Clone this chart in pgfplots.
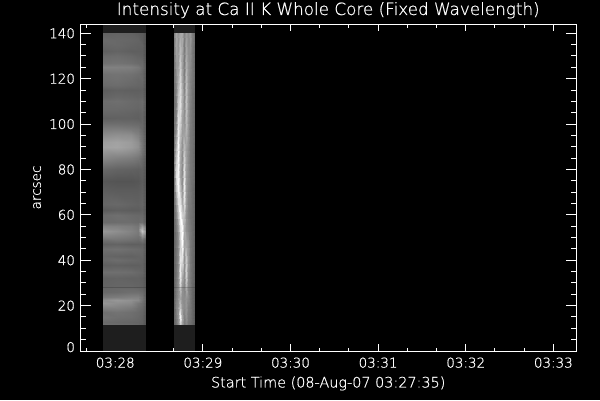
\documentclass[border=0pt]{standalone}
\usepackage{fontspec}
\setmainfont{DejaVu Sans ExtraLight}[RawFeature={embolden=0.7}]
\usepackage{pgfplots}
\pgfplotsset{compat=1.18}
\definecolor{band}{HTML}{1E1E1E}

\pgfplotsset{
  frame/.style={
    scale only axis,
    width=495.5pt, height=327pt,
    xmin=1.2, xmax=340.5,
    ymin=0, ymax=144.1,
    axis line style={white, line width=1pt},
    tick style={white, line width=1pt},
    tick align=inside,
    tick label style={white, font=\fontsize{13.5}{14}\selectfont},
    label style={white},
  }
}

\begin{document}
\begin{tikzpicture}[x=1pt,y=1pt]
\fill[black] (-80.5pt,-49pt) rectangle (519.5pt,351pt);
\path[use as bounding box] (-80.5pt,-49pt) rectangle (519.5pt,351pt);
\begin{axis}[frame,
    at={(0pt,0pt)}, anchor=south west,
    major tick length=7pt, minor tick length=3.5pt,
    xtick={25,85,145,205,265,325},
    xticklabels={03:28,03:29,03:30,03:31,03:32,03:33},
    minor xtick={5,45,65,105,125,165,185,225,245,285,305},
    ytick=\empty,
    xticklabel style={yshift=-3pt},
    title={Intensity at Ca II K Whole Core (Fixed Wavelength)},
    title style={white, font=\fontsize{16.8}{17}\selectfont, at={(0.5,1)}, anchor=south, yshift=-4pt},
    xlabel={Start Time (08-Aug-07 03:27:35)},
    xlabel style={font=\fontsize{14.4}{15}\selectfont, at={(axis description cs:0.5,0)}, anchor=north, yshift=-22pt},
    colormap/blackwhite,
    point meta min=0, point meta max=230,
]
% dark frames under and over the slit data
\addplot[fill=band, draw=none] coordinates {(16.6,0) (46,0) (46,11.5) (16.6,11.5)} --cycle;
\addplot[fill=band, draw=none] coordinates {(16.6,140) (46,140) (46,144.1) (16.6,144.1)} --cycle;
\addplot[fill=band, draw=none] coordinates {(65,0) (79.6,0) (79.6,11.5) (65,11.5)} --cycle;
\addplot[fill=band, draw=none] coordinates {(65,140) (79.6,140) (79.6,144.1) (65,144.1)} --cycle;

% first raster
\addplot[surf, shader=interp, mesh/cols=6, point meta=explicit] coordinates {
(16.6,11.5)[100] (26,11.5)[98] (36,11.5)[95] (40.5,11.5)[92] (43.5,11.5)[86] (46,11.5)[72]
(16.6,13)[96] (26,13)[94] (36,13)[92] (40.5,13)[90] (43.5,13)[88] (46,13)[74]
(16.6,15)[104] (26,15)[100] (36,15)[98] (40.5,15)[94] (43.5,15)[90] (46,15)[76]
(16.6,17)[100] (26,17)[104] (36,17)[100] (40.5,17)[96] (43.5,17)[92] (46,17)[78]
(16.6,19)[115] (26,19)[116] (36,19)[110] (40.5,19)[100] (43.5,19)[96] (46,19)[80]
(16.6,21)[134] (26,21)[128] (36,21)[124] (40.5,21)[108] (43.5,21)[100] (46,21)[82]
(16.6,22.5)[128] (26,22.5)[136] (36,22.5)[130] (40.5,22.5)[124] (43.5,22.5)[106] (46,22.5)[84]
(16.6,24)[108] (26,24)[112] (36,24)[116] (40.5,24)[116] (43.5,24)[106] (46,24)[84]
(16.6,26)[94] (26,26)[96] (36,26)[100] (40.5,26)[100] (43.5,26)[96] (46,26)[82]
(16.6,27.9)[92] (26,27.9)[94] (36,27.9)[94] (40.5,27.9)[92] (43.5,27.9)[90] (46,27.9)[78]
(16.6,28.3)[74] (26,28.3)[76] (36,28.3)[76] (40.5,28.3)[74] (43.5,28.3)[74] (46,28.3)[66]
(16.6,28.7)[90] (26,28.7)[92] (36,28.7)[92] (40.5,28.7)[90] (43.5,28.7)[88] (46,28.7)[76]
(16.6,32)[88] (26,32)[90] (36,32)[88] (40.5,32)[88] (43.5,32)[86] (46,32)[74]
(16.6,35)[100] (26,35)[100] (36,35)[98] (40.5,35)[94] (43.5,35)[92] (46,35)[76]
(16.6,38)[86] (26,38)[88] (36,38)[86] (40.5,38)[86] (43.5,38)[88] (46,38)[74]
(16.6,40)[94] (26,40)[98] (36,40)[94] (40.5,40)[92] (43.5,40)[90] (46,40)[76]
(16.6,42)[92] (26,42)[90] (36,42)[88] (40.5,42)[90] (43.5,42)[92] (46,42)[76]
(16.6,45)[100] (26,45)[102] (36,45)[98] (40.5,45)[96] (43.5,45)[94] (46,45)[78]
(16.6,47)[88] (26,47)[90] (36,47)[86] (40.5,47)[86] (43.5,47)[88] (46,47)[74]
(16.6,49)[100] (26,49)[104] (36,49)[100] (40.5,49)[96] (43.5,49)[104] (46,49)[80]
(16.6,51)[122] (26,51)[118] (36,51)[112] (40.5,51)[106] (43.5,51)[140] (46,51)[106]
(16.6,53)[136] (26,53)[128] (36,53)[118] (40.5,53)[110] (43.5,53)[178] (46,53)[124]
(16.6,55)[118] (26,55)[116] (36,55)[112] (40.5,55)[106] (43.5,55)[140] (46,55)[100]
(16.6,57)[96] (26,57)[98] (36,57)[98] (40.5,57)[96] (43.5,57)[100] (46,57)[82]
(16.6,60)[96] (26,60)[100] (36,60)[96] (40.5,60)[94] (43.5,60)[94] (46,60)[78]
(16.6,62)[82] (26,62)[86] (36,62)[84] (40.5,62)[84] (43.5,62)[88] (46,62)[74]
(16.6,65)[92] (26,65)[94] (36,65)[90] (40.5,65)[88] (43.5,65)[92] (46,65)[76]
(16.6,70)[86] (26,70)[84] (36,70)[84] (40.5,70)[84] (43.5,70)[88] (46,70)[74]
(16.6,75)[78] (26,75)[76] (36,75)[76] (40.5,75)[78] (43.5,75)[84] (46,75)[72]
(16.6,80)[94] (26,80)[90] (36,80)[88] (40.5,80)[86] (43.5,80)[88] (46,80)[74]
(16.6,85)[122] (26,85)[116] (36,85)[112] (40.5,85)[106] (43.5,85)[96] (46,85)[78]
(16.6,90)[146] (26,90)[148] (36,90)[140] (40.5,90)[130] (43.5,90)[108] (46,90)[82]
(16.6,92)[142] (26,92)[146] (36,92)[140] (40.5,92)[128] (43.5,92)[106] (46,92)[82]
(16.6,95)[126] (26,95)[130] (36,95)[128] (40.5,95)[116] (43.5,95)[102] (46,95)[80]
(16.6,98)[112] (26,98)[114] (36,98)[110] (40.5,98)[106] (43.5,98)[96] (46,98)[78]
(16.6,100)[100] (26,100)[100] (36,100)[98] (40.5,100)[96] (43.5,100)[94] (46,100)[76]
(16.6,102.5)[86] (26,102.5)[88] (36,102.5)[88] (40.5,102.5)[86] (43.5,102.5)[92] (46,102.5)[74]
(16.6,105)[92] (26,105)[92] (36,105)[90] (40.5,105)[88] (43.5,105)[92] (46,105)[76]
(16.6,107)[96] (26,107)[96] (36,107)[94] (40.5,107)[92] (43.5,107)[96] (46,107)[76]
(16.6,110)[98] (26,110)[100] (36,110)[96] (40.5,110)[94] (43.5,110)[98] (46,110)[78]
(16.6,112)[90] (26,112)[94] (36,112)[92] (40.5,112)[90] (43.5,112)[92] (46,112)[76]
(16.6,115)[84] (26,115)[88] (36,115)[86] (40.5,115)[86] (43.5,115)[88] (46,115)[72]
(16.6,117)[96] (26,117)[98] (36,117)[94] (40.5,117)[92] (43.5,117)[92] (46,117)[74]
(16.6,120)[100] (26,120)[102] (36,120)[98] (40.5,120)[94] (43.5,120)[96] (46,120)[76]
(16.6,122)[102] (26,122)[104] (36,122)[102] (40.5,122)[98] (43.5,122)[94] (46,122)[76]
(16.6,125)[116] (26,125)[116] (36,125)[114] (40.5,125)[108] (43.5,125)[98] (46,125)[78]
(16.6,127)[102] (26,127)[104] (36,127)[100] (40.5,127)[96] (43.5,127)[96] (46,127)[76]
(16.6,130)[96] (26,130)[98] (36,130)[94] (40.5,130)[90] (43.5,130)[88] (46,130)[72]
(16.6,132)[86] (26,132)[90] (36,132)[86] (40.5,132)[86] (43.5,132)[86] (46,132)[72]
(16.6,135)[92] (26,135)[94] (36,135)[90] (40.5,135)[88] (43.5,135)[88] (46,135)[72]
(16.6,137)[96] (26,137)[94] (36,137)[92] (40.5,137)[90] (43.5,137)[84] (46,137)[72]
(16.6,140)[88] (26,140)[90] (36,140)[88] (40.5,140)[84] (43.5,140)[82] (46,140)[70]
};

% second raster
\addplot[surf, shader=interp, mesh/cols=11, point meta=explicit] coordinates {
(65,11.5)[92] (66.6,11.5)[105] (67.9,11.5)[130] (69.3,11.5)[180] (70.7,11.5)[140] (72.1,11.5)[110] (73.4,11.5)[120] (74.8,11.5)[105] (76.2,11.5)[100] (77.5,11.5)[92] (79.6,11.5)[78]
(65,15)[92] (66.6,15)[110] (67.9,15)[135] (69.3,15)[225] (70.7,15)[150] (72.1,15)[115] (73.4,15)[130] (74.8,15)[110] (76.2,15)[105] (77.5,15)[95] (79.6,15)[78]
(65,20)[90] (66.6,20)[118] (67.9,20)[130] (69.3,20)[175] (70.7,20)[135] (72.1,20)[125] (73.4,20)[135] (74.8,20)[115] (76.2,20)[108] (77.5,20)[95] (79.6,20)[80]
(65,24)[90] (66.6,24)[112] (67.9,24)[130] (69.3,24)[150] (70.7,24)[128] (72.1,24)[125] (73.4,24)[135] (74.8,24)[125] (76.2,24)[108] (77.5,24)[95] (79.6,24)[80]
(65,27.9)[90] (66.6,27.9)[110] (67.9,27.9)[128] (69.3,27.9)[175] (70.7,27.9)[130] (72.1,27.9)[118] (73.4,27.9)[155] (74.8,27.9)[118] (76.2,27.9)[108] (77.5,27.9)[95] (79.6,27.9)[82]
(65,28.3)[76] (66.6,28.3)[92] (67.9,28.3)[108] (69.3,28.3)[145] (70.7,28.3)[108] (72.1,28.3)[100] (73.4,28.3)[130] (74.8,28.3)[100] (76.2,28.3)[92] (77.5,28.3)[80] (79.6,28.3)[70]
(65,28.7)[90] (66.6,28.7)[110] (67.9,28.7)[130] (69.3,28.7)[190] (70.7,28.7)[135] (72.1,28.7)[120] (73.4,28.7)[165] (74.8,28.7)[120] (76.2,28.7)[110] (77.5,28.7)[95] (79.6,28.7)[82]
(65,33)[90] (66.6,33)[105] (67.9,33)[130] (69.3,33)[215] (70.7,33)[155] (72.1,33)[125] (73.4,33)[190] (74.8,33)[125] (76.2,33)[110] (77.5,33)[98] (79.6,33)[84]
(65,40)[90] (66.6,40)[105] (67.9,40)[125] (69.3,40)[210] (70.7,40)[200] (72.1,40)[130] (73.4,40)[185] (74.8,40)[135] (76.2,40)[110] (77.5,40)[98] (79.6,40)[86]
(65,47)[90] (66.6,47)[105] (67.9,47)[125] (69.3,47)[185] (70.7,47)[235] (72.1,47)[145] (73.4,47)[150] (74.8,47)[135] (76.2,47)[110] (77.5,47)[100] (79.6,47)[86]
(65,54)[92] (66.6,54)[110] (67.9,54)[140] (69.3,54)[205] (70.7,54)[240] (72.1,54)[155] (73.4,54)[130] (74.8,54)[120] (76.2,54)[110] (77.5,54)[100] (79.6,54)[86]
(65,60)[95] (66.6,60)[120] (67.9,60)[170] (69.3,60)[230] (70.7,60)[190] (72.1,60)[175] (73.4,60)[130] (74.8,60)[115] (76.2,60)[105] (77.5,60)[100] (79.6,60)[88]
(65,66)[100] (66.6,66)[140] (67.9,66)[200] (69.3,66)[205] (70.7,66)[150] (72.1,66)[205] (73.4,66)[140] (74.8,66)[115] (76.2,66)[110] (77.5,66)[100] (79.6,66)[88]
(65,72)[105] (66.6,72)[175] (67.9,72)[225] (69.3,72)[175] (70.7,72)[130] (72.1,72)[215] (73.4,72)[140] (74.8,72)[120] (76.2,72)[110] (77.5,72)[100] (79.6,72)[88]
(65,78)[110] (66.6,78)[200] (67.9,78)[220] (69.3,78)[150] (70.7,78)[125] (72.1,78)[205] (73.4,78)[140] (74.8,78)[125] (76.2,78)[110] (77.5,78)[105] (79.6,78)[90]
(65,84)[110] (66.6,84)[180] (67.9,84)[225] (69.3,84)[155] (70.7,84)[125] (72.1,84)[190] (73.4,84)[145] (74.8,84)[125] (76.2,84)[110] (77.5,84)[105] (79.6,84)[90]
(65,90)[105] (66.6,90)[160] (67.9,90)[225] (69.3,90)[160] (70.7,90)[130] (72.1,90)[170] (73.4,90)[145] (74.8,90)[130] (76.2,90)[110] (77.5,90)[105] (79.6,90)[90]
(65,96)[100] (66.6,96)[135] (67.9,96)[215] (69.3,96)[175] (70.7,96)[140] (72.1,96)[145] (73.4,96)[160] (74.8,96)[135] (76.2,96)[110] (77.5,96)[105] (79.6,96)[90]
(65,102)[100] (66.6,102)[120] (67.9,102)[205] (69.3,102)[195] (70.7,102)[145] (72.1,102)[130] (73.4,102)[170] (74.8,102)[135] (76.2,102)[115] (77.5,102)[105] (79.6,102)[92]
(65,108)[100] (66.6,108)[115] (67.9,108)[185] (69.3,108)[205] (70.7,108)[155] (72.1,108)[125] (73.4,108)[175] (74.8,108)[135] (76.2,108)[115] (77.5,108)[105] (79.6,108)[92]
(65,114)[100] (66.6,114)[120] (67.9,114)[170] (69.3,114)[200] (70.7,114)[160] (72.1,114)[120] (73.4,114)[175] (74.8,114)[135] (76.2,114)[120] (77.5,114)[105] (79.6,114)[95]
(65,120)[105] (66.6,120)[125] (67.9,120)[155] (69.3,120)[195] (70.7,120)[150] (72.1,120)[115] (73.4,120)[170] (74.8,120)[135] (76.2,120)[120] (77.5,120)[110] (79.6,120)[95]
(65,126)[105] (66.6,126)[135] (67.9,126)[140] (69.3,126)[185] (70.7,126)[145] (72.1,126)[110] (73.4,126)[160] (74.8,126)[135] (76.2,126)[125] (77.5,126)[110] (79.6,126)[92]
(65,132)[110] (66.6,132)[145] (67.9,132)[135] (69.3,132)[170] (70.7,132)[150] (72.1,132)[110] (73.4,132)[150] (74.8,132)[130] (76.2,132)[130] (77.5,132)[110] (79.6,132)[92]
(65,140)[115] (66.6,140)[150] (67.9,140)[130] (69.3,140)[150] (70.7,140)[155] (72.1,140)[115] (73.4,140)[140] (74.8,140)[125] (76.2,140)[140] (77.5,140)[115] (79.6,140)[95]
};
\end{axis}

% second axis carries the longer y ticks
\begin{axis}[frame,
    at={(0pt,0pt)}, anchor=south west,
    major tick length=10pt, minor tick length=5.5pt,
    xtick=\empty,
    ytick={0,20,40,60,80,100,120,140},
    yticklabels={\raisebox{8pt}{0},20,40,60,80,100,120,140},
    minor ytick={5,10,15,25,30,35,45,50,55,65,70,75,85,90,95,105,110,115,125,130,135},
    yticklabel style={xshift=-2pt},
    ylabel={arcsec},
    ylabel style={font=\fontsize{13.5}{14}\selectfont, at={(axis description cs:0,0.5)}, anchor=south, rotate=0, yshift=36pt},
]
\end{axis}
\end{tikzpicture}
\end{document}
